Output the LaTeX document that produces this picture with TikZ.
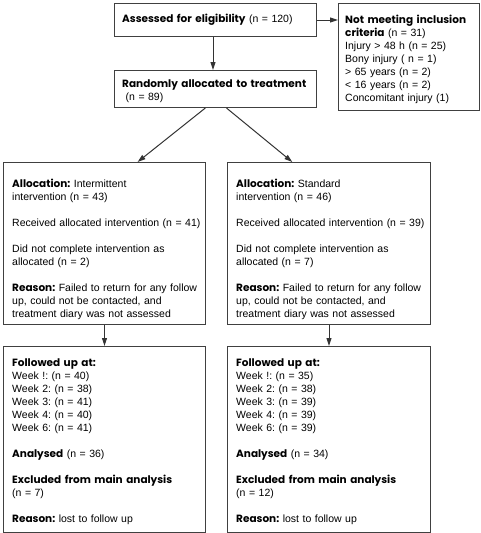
\documentclass[tikz,border=0pt]{standalone}
\usepackage{fontspec}
\setmainfont{Liberation Sans}[BoldFont={Poppins Bold}]
\usepackage{tikz}
\usetikzlibrary{arrows.meta}
\usetikzlibrary{calc}
\usetikzlibrary{positioning}
\frenchspacing

\begin{document}
\begin{tikzpicture}[x=1pt, y=1pt, font=\fontsize{10.5}{13}\selectfont]
  \tikzstyle{box}=[draw=black!75, line width=1pt, rectangle, anchor=north west, inner sep=0pt]
  \tikzstyle{txt}=[anchor=base west, align=left, inner sep=0pt, text width=200pt]
  \tikzstyle{arr}=[-{Triangle[length=8pt,width=5pt]}, line width=1pt, draw=black!80]
  \useasboundingbox (0,0) rectangle (481,-533);

  % boxes
  \node[box, minimum width=202pt, minimum height=33pt]  (assess)  at (114,-3)   {};
  \node[box, minimum width=141pt, minimum height=107pt] (exclude) at (338,-3)   {};
  \node[box, minimum width=202pt, minimum height=37pt]  (random)  at (114,-70)  {};
  \node[box, minimum width=202pt, minimum height=162pt] (allocL)  at (3,-162)   {};
  \node[box, minimum width=203pt, minimum height=162pt] (allocR)  at (227,-162) {};
  \node[box, minimum width=202pt, minimum height=186pt] (followL) at (3,-346)   {};
  \node[box, minimum width=203pt, minimum height=186pt] (followR) at (227,-346) {};

  % texts
  \node[txt] (assessT) at (122,-22) {\textbf{Assessed for eligibility} (n = 120)};
  \node[txt] (excludeT) at (345,-23) {\textbf{Not meeting inclusion}\\
    \textbf{criteria} (n = 31)\\
    Injury > 48 h (n = 25)\\
    Bony injury ( n = 1)\\
    > 65 years (n = 2)\\
    < 16 years (n = 2)\\
    Concomitant injury (1)};
  \node[txt] (randomT) at (122,-87) {\textbf{Randomly allocated to treatment}\\
    \ (n = 89)};

  \node[txt] (allocLT) at (12,-187) {\textbf{Allocation:} Intermittent\\
    intervention (n = 43)\\[13pt]
    Received allocated intervention (n = 41)\\[13pt]
    Did not complete intervention as\\
    allocated (n = 2)\\[13pt]
    \textbf{Reason:} Failed to return for any follow\\
    up, could not be contacted, and\\
    treatment diary was not assessed};
  \node[txt] (allocRT) at (236,-187) {\textbf{Allocation:} Standard\\
    intervention (n = 46)\\[13pt]
    Received allocated intervention (n = 39)\\[13pt]
    Did not complete intervention as\\
    allocated (n = 7)\\[13pt]
    \textbf{Reason:} Failed to return for any follow\\
    up, could not be contacted, and\\
    treatment diary was not assessed};

  \node[txt] (followLT) at (12,-366) {\textbf{Followed up at:}\\
    Week !: (n = 40)\\
    Week 2: (n = 38)\\
    Week 3: (n = 41)\\
    Week 4: (n = 40)\\
    Week 6: (n = 41)\\[13pt]
    \textbf{Analysed} (n = 36)\\[13pt]
    \textbf{Excluded from main analysis}\\
    (n = 7)\\[13pt]
    \textbf{Reason:} lost to follow up};
  \node[txt] (followRT) at (236,-366) {\textbf{Followed up at:}\\
    Week !: (n = 35)\\
    Week 2: (n = 38)\\
    Week 3: (n = 39)\\
    Week 4: (n = 39)\\
    Week 6: (n = 39)\\[13pt]
    \textbf{Analysed} (n = 34)\\[13pt]
    \textbf{Excluded from main analysis}\\
    (n = 12)\\[13pt]
    \textbf{Reason:} lost to follow up};

  % connectors
  \draw[arr] (assess.east) -- (assess.east -| exclude.west);
  \draw[arr] (assess.south -| 213,0) -- (random.north -| 213,0);
  \draw[arr] ($(random.south west)!0.45!(random.south east)$) -- ($(allocL.north west)!0.663!(allocL.north east)$);
  \draw[arr] ($(random.south west)!0.554!(random.south east)$) -- ($(allocR.north west)!0.32!(allocR.north east)$);
  \draw[arr] (allocL.south) -- (followL.north);
  \draw[arr] (allocR.south) -- (followR.north);
\end{tikzpicture}
\end{document}
